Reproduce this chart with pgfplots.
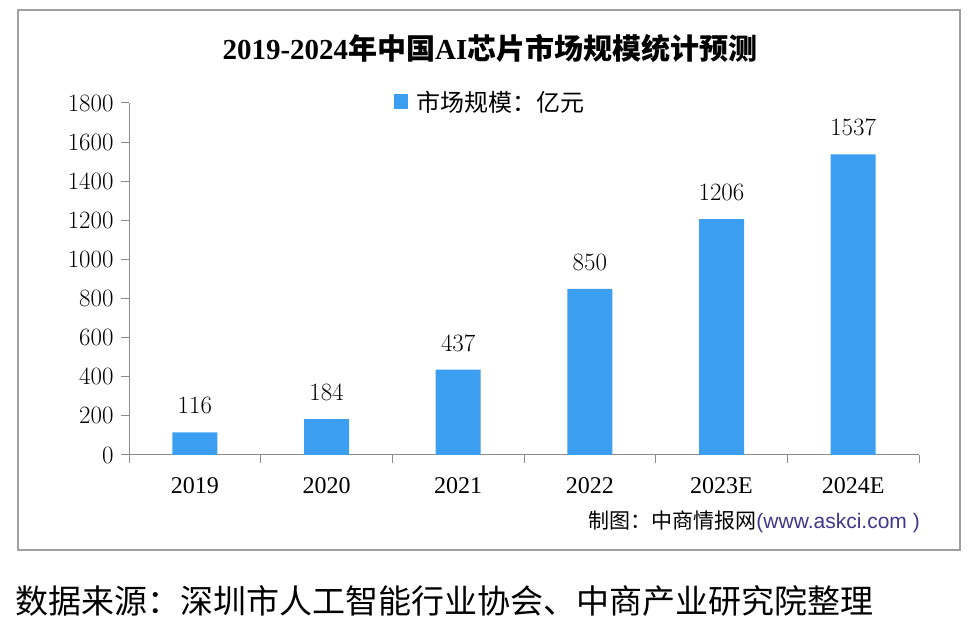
\documentclass[border=0pt]{standalone}
\usepackage{pgfplots}
\pgfplotsset{compat=1.18}
\usepackage{fontspec}
\setmainfont{Liberation Serif}
\newfontfamily\cjk{Noto Sans CJK SC}
\newfontfamily\sans{Liberation Sans}
\definecolor{barblue}{RGB}{59,158,240}
\definecolor{axisgray}{RGB}{140,140,140}
\definecolor{boxgray}{RGB}{160,160,160}
\definecolor{urlblue}{RGB}{62,56,140}
\begin{document}
\begin{tikzpicture}[x=1pt,y=1pt]
\useasboundingbox (0,0) rectangle (980,626);
\draw[line width=1.2pt, boxgray] (18,76) rectangle (960,616);
\node at (490,577.5) {\fontsize{29}{29}\selectfont\bfseries 2019-2024{\cjk 年中国}AI{\cjk 芯片市场规模统计预测}};
\node[anchor=east, inner sep=0pt] at (920,104) {\fontsize{21}{21}\selectfont\cjk 制图：中商情报网{\color{urlblue}\sans(www.askci.com )}};
\node[anchor=west, inner sep=0pt] at (15,25) {\cjk\fontsize{33}{33}\selectfont 数据来源：深圳市人工智能行业协会、中商产业研究院整理};
\begin{axis}[
  at={(129pt,171pt)}, anchor=south west,
  scale only axis, width=790pt, height=352pt,
  ybar, bar width=45pt,
  xmin=-0.5, xmax=5.5, ymin=0, ymax=1800,
  ytick={0,200,...,1800},
  /pgf/number format/1000 sep={},
  xtick={0,...,5}, xticklabels={2019,2020,2021,2022,2023E,2024E},
  minor xtick={-0.5,0.5,...,5.5},
  axis x line*=bottom, axis y line*=left,
  axis line style={draw=axisgray, line width=1pt},
  tick align=outside,
  major tick length=8pt, minor tick length=8pt,
  tick style={draw=axisgray, line width=1pt},
  major x tick style={draw=none},
  minor x tick style={draw=axisgray, line width=1pt},
  tick label style={font=\fontsize{24}{24}\selectfont},
  x tick label style={yshift=-11pt},
  y tick label style={xshift=-4pt},
  nodes near coords,
  nodes near coords style={font=\fontsize{24}{24}\selectfont, yshift=15pt},
  legend style={at={(0.457,1.003)}, anchor=center, draw=none, fill=none, font=\cjk\fontsize{24}{24}\selectfont,
    /tikz/every odd column/.append style={column sep=6pt}},
  legend image code/.code={\fill[#1] (0pt,-7.5pt) rectangle (14pt,7.5pt);},
]
\addplot[fill=barblue, draw=none] coordinates {(0,116) (1,184) (2,437) (3,850) (4,1206) (5,1537)};
\addlegendentry{市场规模：亿元}
\end{axis}
\end{tikzpicture}
\end{document}
